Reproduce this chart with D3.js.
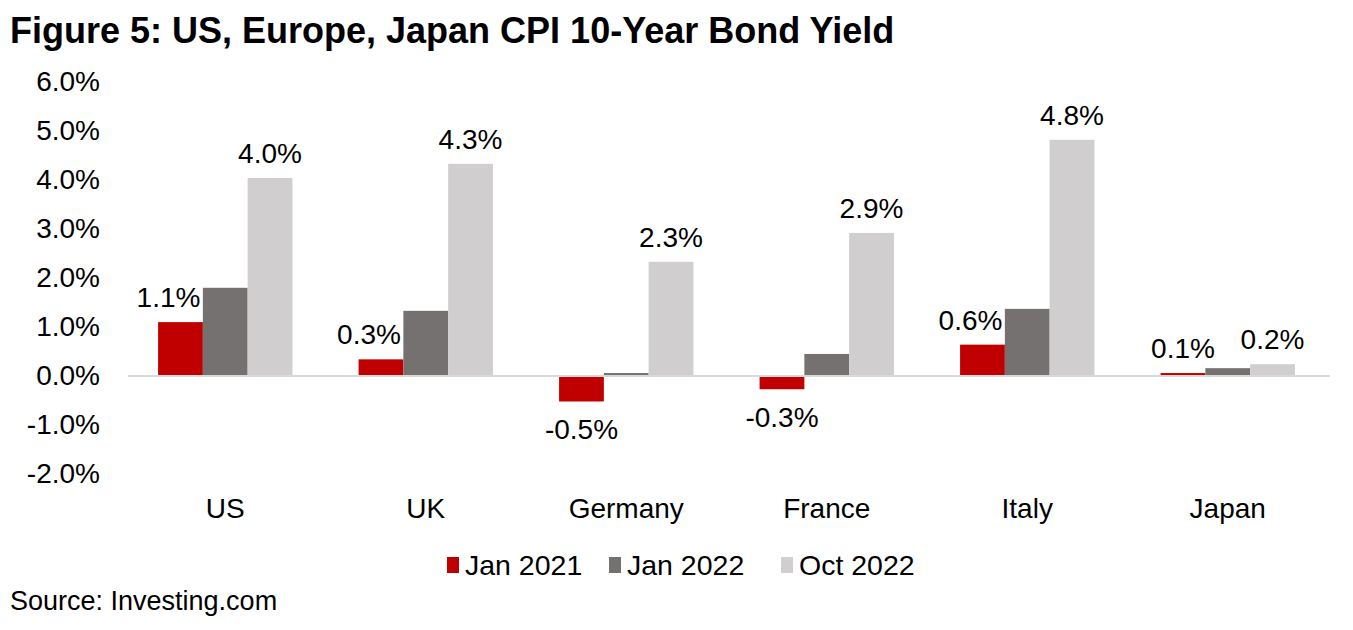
<!DOCTYPE html>
<html>
<head>
<meta charset="utf-8">
<script src="https://cdn.jsdelivr.net/npm/d3@7"></script>
<style>
  body { margin: 0; background: #fff; }
  text { font-family: "Liberation Sans", Arial, sans-serif; fill: #000; }
</style>
</head>
<body>
<div id="viz"></div>
<script>
// chart data
var countries = ["US", "UK", "Germany", "France", "Italy", "Japan"];
var seriesNames = ["Jan 2021", "Jan 2022", "Oct 2022"];
var jan2021 = [1.1, 0.34, -0.52, -0.27, 0.64, 0.06];
var jan2022 = [1.8, 1.33, 0.06, 0.45, 1.37, 0.16];
var oct2022 = [4.04, 4.33, 2.33, 2.92, 4.82, 0.24];
var yTicks = [-2, -1, 0, 1, 2, 3, 4, 5, 6];
var labelled = ["Jan 2021", "Oct 2022"];

var colors = ["#c00000", "#767171", "#d0cece"];
var w = 1353, h = 630;

// plain hyphen for negatives, like the original
function pct(v) {
  return d3.format(".1f")(v).replace("\u2212", "-") + "%";
}

var svg = d3.select("#viz").append("svg")
    .attr("width", w)
    .attr("height", h);

svg.append("text")
    .attr("x", 10)
    .attr("y", 43)
    .style("font-size", "36px")
    .style("font-weight", "bold")
    .text("Figure 5: US, Europe, Japan CPI 10-Year Bond Yield");

var y = d3.scaleLinear().domain([-2, 6]).range([474, 82]);

var x0 = d3.scaleBand()
    .domain(countries)
    .range([125, 1328])
    .paddingInner(0.33)
    .paddingOuter(0.165);

var x1 = d3.scaleBand()
    .domain(seriesNames)
    .range([0, x0.bandwidth()]);

var rows = countries.map(function(c, i) {
  return { country: c, values: [jan2021[i], jan2022[i], oct2022[i]] };
});

// y axis labels only, no line
var yAxis = svg.append("g")
    .attr("transform", "translate(100,0)")
    .call(d3.axisLeft(y).tickValues(yTicks).tickSize(0).tickPadding(0)
      .tickFormat(pct));
yAxis.select(".domain").remove();
yAxis.selectAll("text")
    .style("font-size", "28px")
    .style("font-family", "Liberation Sans, Arial, sans-serif");

// bars
var groups = svg.selectAll(".grp")
  .data(rows)
  .enter().append("g")
    .attr("class", "grp")
    .attr("transform", function(d) { return "translate(" + x0(d.country) + ",0)"; });

groups.selectAll("rect")
  .data(function(d) { return d.values.map(function(v, j) { return { s: seriesNames[j], v: v, j: j }; }); })
  .enter().append("rect")
    .attr("x", function(d) { return x1(d.s); })
    .attr("width", x1.bandwidth())
    .attr("y", function(d) { return y(Math.max(0, d.v)); })
    .attr("height", function(d) { return Math.abs(y(d.v) - y(0)); })
    .style("fill", function(d) { return colors[d.j]; });

// zero line
svg.append("line")
    .attr("x1", 128)
    .attr("x2", 1330)
    .attr("y1", y(0))
    .attr("y2", y(0))
    .style("stroke", "#d9d9d9")
    .style("stroke-width", 2);

// data labels
groups.selectAll(".lbl")
  .data(function(d) {
    return d.values.map(function(v, j) { return { s: seriesNames[j], v: v, j: j }; })
      .filter(function(d) { return labelled.indexOf(d.s) > -1; });
  })
  .enter().append("text")
    .attr("class", "lbl")
    .attr("x", function(d) { return x1(d.s) + x1.bandwidth() / 2 - (d.j == 0 && d.v > 0.3 ? 12 : 0); })
    .attr("y", function(d) { return d.v >= 0 ? y(d.v) - 15 : y(d.v) + 38; })
    .attr("text-anchor", "middle")
    .style("font-size", "28px")
    .text(function(d) { return pct(d.v); });

// category labels
svg.selectAll(".cat")
  .data(countries)
  .enter().append("text")
    .attr("class", "cat")
    .attr("x", function(d) { return x0(d) + x0.bandwidth() / 2; })
    .attr("y", 518)
    .attr("text-anchor", "middle")
    .style("font-size", "28px")
    .text(function(d) { return d; });

// legend
var legendX = [447, 609, 781];
var legend = svg.selectAll(".leg")
  .data(seriesNames)
  .enter().append("g")
    .attr("class", "leg")
    .attr("transform", function(d, i) { return "translate(" + legendX[i] + ",0)"; });

legend.append("rect")
    .attr("x", 0)
    .attr("y", 557)
    .attr("width", 12)
    .attr("height", 16)
    .style("fill", function(d, i) { return colors[i]; });

legend.append("text")
    .attr("x", 18)
    .attr("y", 575)
    .style("font-size", "28.5px")
    .text(function(d) { return d; });

svg.append("text")
    .attr("x", 10)
    .attr("y", 610)
    .style("font-size", "27px")
    .text("Source: Investing.com");
</script>
</body>
</html>
